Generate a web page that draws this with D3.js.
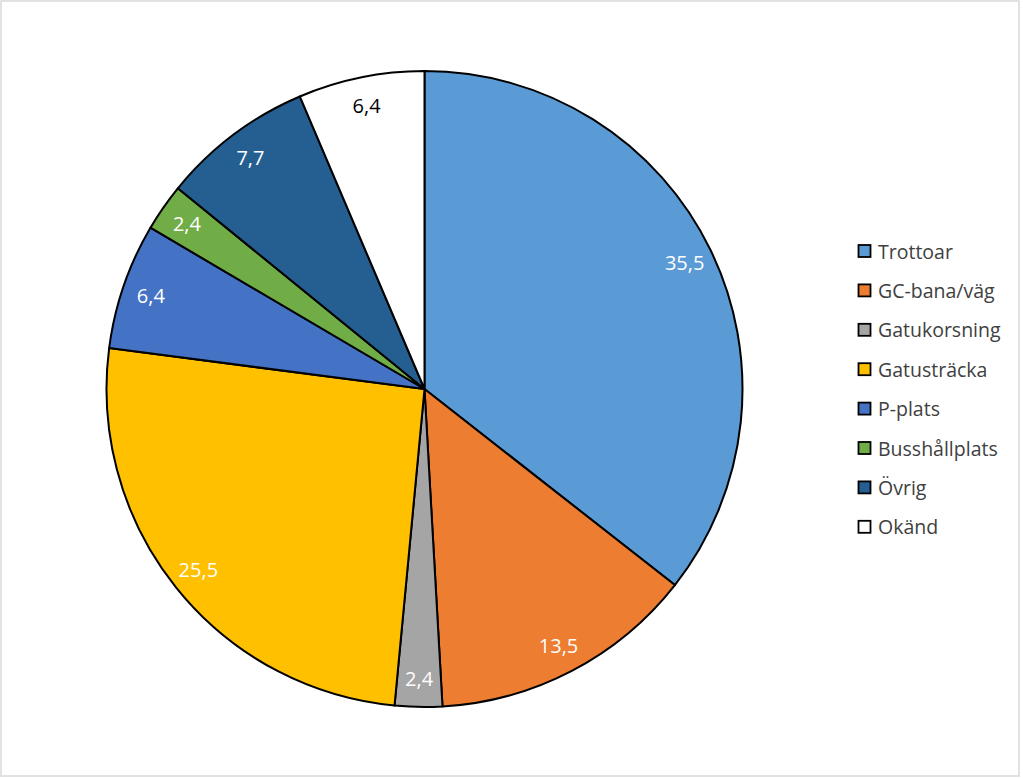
<!DOCTYPE html>
<html><head><meta charset="utf-8">
<script src="https://cdn.jsdelivr.net/npm/d3@7"></script>
<style>html,body{margin:0;padding:0;background:#fff;}svg{display:block;}</style>
</head><body>
<script>
const categories = ["Trottoar","GC-bana/väg","Gatukorsning","Gatusträcka","P-plats","Busshållplats","Övrig","Okänd"];
const values = [35.5,13.5,2.4,25.5,6.4,2.4,7.7,6.4];
const labels = ["35,5","13,5","2,4","25,5","6,4","2,4","7,7","6,4"];
const colors = ["#5B9BD5","#ED7D31","#A5A5A5","#FFC000","#4472C4","#70AD47","#255E91","#FFFFFF"];
const labelColors = ["#fff","#fff","#fff","#fff","#fff","#fff","#fff","#000"];

const W = 1023, H = 778;
const svg = d3.select("body").append("svg").attr("width", W).attr("height", H);
svg.append("rect").attr("x",1).attr("y",1).attr("width",1018).attr("height",775)
  .attr("fill","#fff").attr("stroke","#d9d9d9").attr("stroke-width",1.5);

const cx = 424.5, cy = 389, R = 318;
const font = "'Open Sans', 'Liberation Sans', sans-serif";
const pie = d3.pie().sort(null).value(d => d).startAngle(0).endAngle(2*Math.PI);
const arcs = pie(values);
const arc = d3.arc().innerRadius(0).outerRadius(R);
const labelArc = d3.arc().innerRadius(R*0.91).outerRadius(R*0.91);

const g = svg.append("g").attr("transform", `translate(${cx},${cy})`);
g.selectAll("path").data(arcs).join("path")
  .attr("d", arc).attr("fill", (d,i) => colors[i])
  .attr("stroke", "#000").attr("stroke-width", 2).attr("stroke-linejoin","round");

g.selectAll("text").data(arcs).join("text")
  .attr("transform", d => `translate(${labelArc.centroid(d)})`)
  .attr("text-anchor","middle").attr("dominant-baseline","central")
  .attr("font-family", font).attr("font-size", 20)
  .attr("fill", (d,i) => labelColors[i])
  .text((d,i) => labels[i]);

const legend = svg.append("g").attr("transform","translate(858,251)");
const step = 39.4;
const items = legend.selectAll("g").data(categories).join("g")
  .attr("transform",(d,i)=>`translate(0,${i*step})`);
items.append("rect").attr("x",0.5).attr("y",-6).attr("width",12).attr("height",12)
  .attr("fill",(d,i)=>colors[i]).attr("stroke","#000").attr("stroke-width",1.8);
items.append("text").attr("x",20).attr("y",0).attr("dominant-baseline","central")
  .attr("font-family",font).attr("font-size",19.5).attr("fill","#404040")
  .text(d=>d);
</script>
</body></html>
